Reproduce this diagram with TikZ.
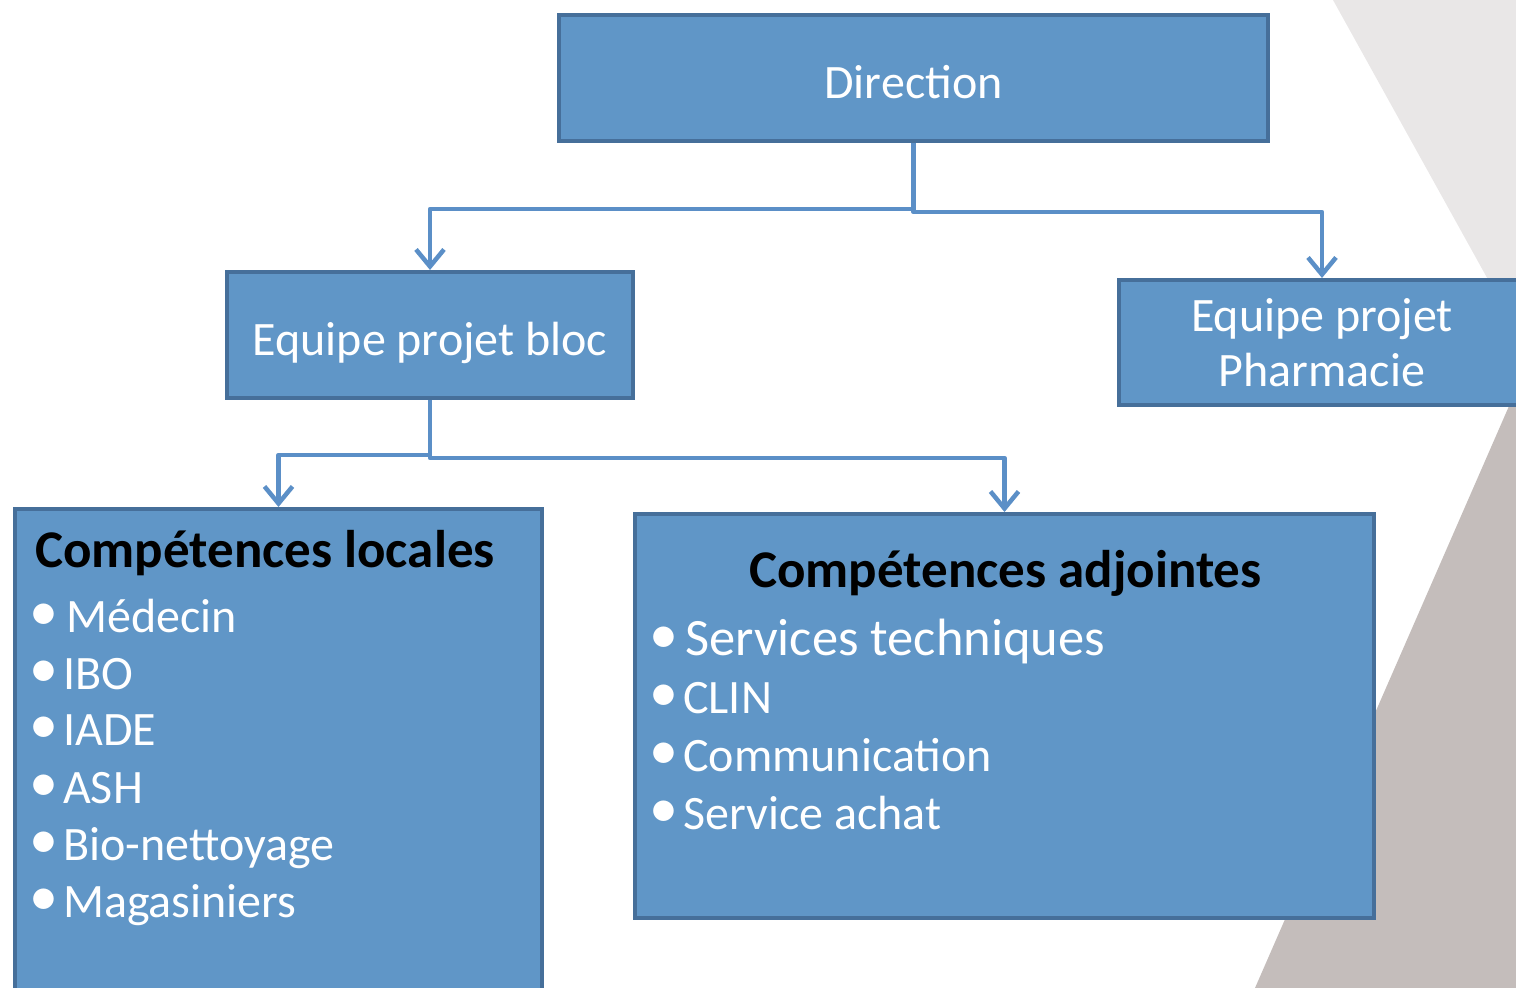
\documentclass[tikz,border=0pt]{standalone}
\usepackage{fontspec}
\setmainfont{Carlito}
\usetikzlibrary{positioning,arrows.meta,calc}
\definecolor{boxfill}{RGB}{96,150,199}
\definecolor{boxline}{RGB}{70,111,154}
\definecolor{linkblue}{RGB}{91,143,199}
\definecolor{bglight}{RGB}{233,231,231}
\definecolor{bgdark}{RGB}{196,189,187}
\newcommand{\itm}[1]{\makebox[28pt][l]{\hspace{-6pt}\raisebox{2pt}{\fontsize{58}{58}\selectfont•}}#1}
\tikzset{
  box/.style={draw=boxline, fill=boxfill, line width=4pt, inner sep=0pt, text=white, align=center,
    font=\fontsize{48}{55}\selectfont},
  oneline/.style={text height=40pt, text depth=0pt},
  link/.style={draw=linkblue, line width=4.5pt, line join=round, -{Straight Barb[length=17pt,width=28pt]}},
  head/.style={font=\fontsize{53}{60}\selectfont\bfseries, text=black, inner sep=0pt},
  item/.style={font=\fontsize{48}{57}\selectfont, text=white, inner sep=0pt, anchor=base west}
}
\begin{document}
\begin{tikzpicture}[x=1pt,y=-1pt]
\clip (0,0) rectangle (1516,988);
\fill[bglight] (1333,0) -- (1516,0) -- (1516,330) -- cycle;
\fill[bgdark] (1516,390) -- (1516,988) -- (1255,988) -- cycle;

\node[box, oneline, minimum width=709pt, minimum height=126pt] (direction) at (913.5,78) {Direction};
\node[box, oneline, minimum width=406pt, minimum height=126pt] (bloc) at (430,335) {Equipe projet bloc};
\node[box, minimum width=406pt, minimum height=125pt] (pharma) at (1322,342.5) {Equipe projet\\Pharmacie};
\node[box, minimum width=527pt, minimum height=491pt] (locales) at (278.5,754.5) {};
\node[box, minimum width=739pt, minimum height=404pt] (adjointes) at (1004.5,716) {};

\draw[link] (direction.south) -- ++(0,66) -| (bloc.north);
\draw[link] (direction.south) -- ++(0,69) -| (pharma.north);
\draw[link] (bloc.south) -- ++(0,55) -| (locales.north);
\draw[link] (bloc.south) -- ++(0,58) -| (adjointes.north);

% competences locales
\node[head, anchor=base west] (loctitle) at (35,567) {Compétences locales};
\node[item] (medecin) at (35,632) {\itm{\hspace{3pt}Médecin}};
\node[item] (ibo) at (35,689) {\itm{IBO}};
\node[item] (iade) at (35,745) {\itm{IADE}};
\node[item] (ash) at (35,803) {\itm{ASH}};
\node[item] (bio) at (35,860) {\itm{Bio-nettoyage}};
\node[item] (magas) at (35,917) {\itm{Magasiniers}};

% competences adjointes
\node[head, anchor=base] (adjtitle) at (1005.5,587) {Compétences adjointes};
\node[item, font=\fontsize{52.5}{57}\selectfont] (techniques) at (655,655) {\itm{\hspace{2pt}Services techniques}};
\node[item] (clin) at (655,713) {\itm{CLIN}};
\node[item] (comm) at (655,771) {\itm{Communication}};
\node[item] (achat) at (655,829) {\itm{Service achat}};
\end{tikzpicture}
\end{document}
